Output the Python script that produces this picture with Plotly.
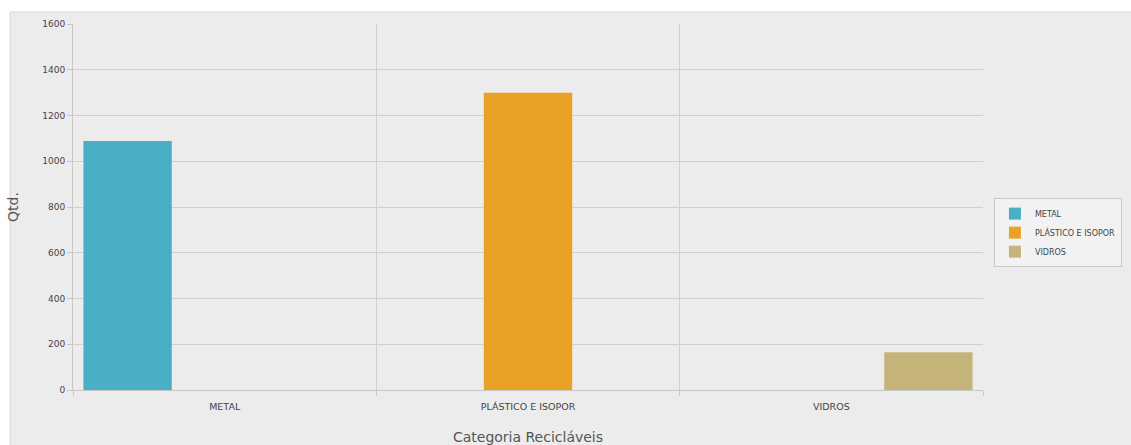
import plotly.graph_objects as go

categories = ["METAL", "PLÁSTICO E ISOPOR", "VIDROS"]
series_names = ["METAL", "PLÁSTICO E ISOPOR", "VIDROS"]
metal_values = [1088, None, None]
plastico_values = [None, 1300, None]
vidros_values = [None, None, 165]
colors = ["#4aaec4", "#e9a126", "#c4b47a"]
y_ticks = [0, 200, 400, 600, 800, 1000, 1200, 1400, 1600]

fig = go.Figure()
for name, vals, col in zip(series_names, [metal_values, plastico_values, vidros_values], colors):
    fig.add_trace(go.Bar(name=name, x=categories, y=vals, marker=dict(color=col, line=dict(width=0))))

font_family = "DejaVu Sans, Verdana, sans-serif"
fig.update_layout(
    width=1131, height=445,
    margin=dict(l=73, r=148, t=24, b=55, autoexpand=False),
    paper_bgcolor="#ffffff",
    plot_bgcolor="#ececec",
    barmode="group",
    bargap=0.04,
    bargroupgap=0.09,
    font=dict(family=font_family, color="#555555"),
    showlegend=True,
    legend=dict(
        x=1.012, y=0.43, xanchor="left", yanchor="middle",
        bgcolor="#f2f2f2", bordercolor="#c8c8c8", borderwidth=1,
        font=dict(size=8, color="#444444"),
        itemsizing="constant", tracegroupgap=0, itemwidth=30,
    ),
    shapes=[dict(
        type="rect", xref="paper", yref="paper",
        x0=-0.0692, x1=1.2, y0=-0.2, y1=1.0328,
        fillcolor="#ececec", line=dict(color="#d6d6d6", width=1), layer="below",
    )],
)
fig.update_xaxes(
    type="category", tickson="boundaries",
    showgrid=True, gridcolor="#cfcfcf", gridwidth=1,
    showline=True, linecolor="#c8c8c8", linewidth=1,
    ticks="outside", ticklen=5, tickcolor="#c8c8c8",
    ticklabelstandoff=8,
    tickfont=dict(size=9.5, color="#444444"),
    title=dict(text="Categoria Recicláveis", font=dict(size=14, color="#555555"), standoff=21),
    range=[-0.5, 2.5], mirror=False, automargin=False,
)
fig.update_yaxes(
    range=[0, 1600], tickvals=y_ticks,
    showgrid=True, gridcolor="#cfcfcf", gridwidth=1,
    showline=True, linecolor="#c8c8c8", linewidth=1,
    ticks="outside", ticklen=5, tickcolor="#c8c8c8",
    tickfont=dict(size=9, color="#444444"),
    zeroline=False, automargin=False,
    title=dict(text="Qtd.", font=dict(size=14, color="#555555"), standoff=20),
)
fig.write_html("out.html")
